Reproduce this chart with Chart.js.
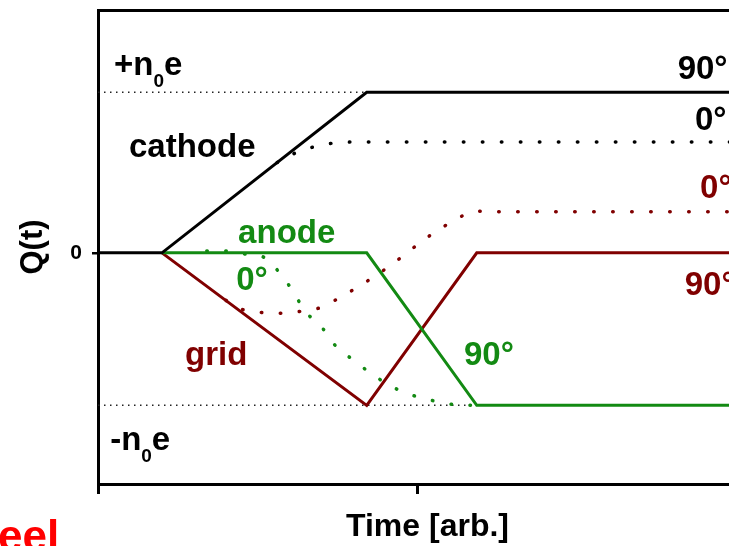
<!DOCTYPE html>
<html>
<head>
<meta charset="utf-8">
<script src="https://cdn.jsdelivr.net/npm/chart.js@4.4.1/dist/chart.umd.min.js"></script>
<style>
  html, body { margin: 0; padding: 0; background: #fff; overflow: hidden; }
  #wrap { position: relative; width: 729px; height: 546px; overflow: hidden; }
  canvas { display: block; }
</style>
</head>
<body>
<div id="wrap"><canvas id="c" width="757" height="546" style="width:757px;height:546px"></canvas></div>
<script>
// Induced charge Q(t) on cathode, anode and grid, for 90° and 0° tracks.
const timeTicks = [0, 5, 10];
const chargeTicks = [0];

// +n0e and -n0e reference levels
const levelT = [0, 10.3];
const levelPlus = [1, 1];
const levelMinus = [-0.95, -0.95];

// 90° track (solid lines)
const cathode90T = [0, 1, 4.2, 10.3];
const cathode90Q = [0, 0, 1, 1];
const anode90T = [1, 4.2, 5.92, 10.3];
const anode90Q = [0, 0, -0.95, -0.95];
const grid90T = [1, 4.2, 5.92, 10.3];
const grid90Q = [0, -0.95, 0, 0];

// 0° track (dotted curves), drawn where each one departs from its 90° line
const cathode0T = [2.8, 3.1, 3.39, 3.7, 4.0, 10.3];
const cathode0Q = [0.5625, 0.625, 0.662, 0.685, 0.69, 0.69];
const anode0T = [1.7, 1.98, 2.28, 2.58, 2.84, 3.05, 3.23, 3.5, 3.7, 4.0, 4.3, 4.59, 4.9, 5.19, 5.48, 5.78, 5.92];
const anode0Q = [0.012, 0.012, -0.006, -0.025, -0.125, -0.241, -0.36, -0.465, -0.573, -0.671, -0.76, -0.833, -0.885, -0.916, -0.941, -0.95, -0.95];
const grid0T = [2.0, 2.25, 2.56, 2.84, 3.14, 3.43, 3.73, 4.03, 4.31, 4.6, 4.86, 5.16, 5.45, 5.75, 5.97, 6.25, 10.3];
const grid0Q = [-0.296, -0.352, -0.372, -0.376, -0.366, -0.347, -0.29, -0.22, -0.15, -0.07, 0.01, 0.1, 0.175, 0.24, 0.26, 0.256, 0.256];

const INK = '#000000';
const GREEN = '#138a13';
const MAROON = '#800000';
const FONT = "'Liberation Sans', Arial, sans-serif";

Chart.defaults.font.family = FONT;

const pts = (T, Q) => T.map((t, i) => ({ x: t, y: Q[i] }));

// text annotations, anchored in data units (left edge, baseline)
const notes = [
  { parts: [['+n'], ['0', 'sub'], ['e']], x: 0.25, y: 1.109, color: INK },
  { parts: [['cathode']], x: 0.484, y: 0.598, color: INK },
  { parts: [['anode']], x: 2.19, y: 0.062, color: GREEN },
  { parts: [['0°']], x: 2.16, y: -0.23, color: GREEN },
  { parts: [['grid']], x: 1.36, y: -0.698, color: MAROON },
  { parts: [['90°']], x: 5.72, y: -0.698, color: GREEN },
  { parts: [['-n'], ['0', 'sub'], ['e']], x: 0.19, y: -1.227, color: INK },
  { parts: [['90°']], x: 9.06, y: 1.084, color: INK },
  { parts: [['0°']], x: 9.33, y: 0.766, color: INK },
  { parts: [['0°']], x: 9.41, y: 0.343, color: MAROON },
  { parts: [['90°']], x: 9.17, y: -0.262, color: MAROON }
];

const notesPlugin = {
  id: 'notes',
  afterDatasetsDraw(chart) {
    const ctx = chart.ctx;
    const xs = chart.scales.x, ys = chart.scales.y;
    ctx.save();
    ctx.textBaseline = 'alphabetic';
    ctx.textAlign = 'left';
    for (const n of notes) {
      let px = xs.getPixelForValue(n.x);
      const py = ys.getPixelForValue(n.y);
      ctx.fillStyle = n.color;
      for (const [txt, kind] of n.parts) {
        if (kind === 'sub') {
          ctx.font = 'bold 19px ' + FONT;
          ctx.fillText(txt, px, py + 12);
        } else {
          ctx.font = 'bold 33px ' + FONT;
          ctx.fillText(txt, px, py);
        }
        px += ctx.measureText(txt).width;
      }
    }
    ctx.font = 'bold 44px ' + FONT;
    ctx.fillStyle = '#ff0000';
    ctx.fillText('eel', -2, 551);
    ctx.restore();
  }
};

const dotted = (color) => ({
  borderColor: color,
  borderWidth: 3.5,
  borderDash: [0.5, 18.5],
  borderCapStyle: 'round',
  cubicInterpolationMode: 'monotone',
  order: 5
});
const solid = (color) => ({
  borderColor: color,
  borderWidth: 3,
  order: 1
});
const level = {
  borderColor: '#222',
  borderWidth: 1.5,
  borderDash: [1.5, 4.5],
  order: 10
};

new Chart(document.getElementById('c'), {
  type: 'line',
  data: {
    datasets: [
      Object.assign({ label: '+n0e', data: pts(levelT, levelPlus) }, level),
      Object.assign({ label: '-n0e', data: pts(levelT, levelMinus) }, level),
      Object.assign({ label: 'cathode 0°', data: pts(cathode0T, cathode0Q) }, dotted(INK)),
      Object.assign({ label: 'anode 0°', data: pts(anode0T, anode0Q) }, dotted(GREEN)),
      Object.assign({ label: 'grid 0°', data: pts(grid0T, grid0Q) }, dotted(MAROON)),
      Object.assign({ label: 'cathode 90°', data: pts(cathode90T, cathode90Q) }, solid(INK)),
      Object.assign({ label: 'anode 90°', data: pts(anode90T, anode90Q) }, solid(GREEN)),
      Object.assign({ label: 'grid 90°', data: pts(grid90T, grid90Q) }, solid(MAROON))
    ]
  },
  options: {
    responsive: false,
    animation: false,
    devicePixelRatio: 1,
    layout: { padding: 0 },
    elements: { point: { radius: 0 }, line: { tension: 0, fill: false } },
    plugins: { legend: { display: false }, tooltip: { enabled: false } },
    scales: {
      x: {
        type: 'linear', position: 'bottom', min: 0, max: 10.3,
        afterFit: s => { s.height = 62; s.paddingLeft = 0; s.paddingRight = 0; },
        afterBuildTicks: s => { s.ticks = timeTicks.map(v => ({ value: v })); },
        grid: { display: true, drawOnChartArea: false, drawTicks: true, tickLength: 10, lineWidth: 3, color: INK },
        border: { display: true, width: 3, color: INK },
        ticks: { display: false },
        title: { display: true, text: 'Time [arb.]', color: INK, font: { size: 32, weight: 'bold' }, padding: { top: 0, bottom: 0 } }
      },
      x2: {
        type: 'linear', position: 'top', min: 0, max: 10.3,
        afterFit: s => { s.height = 10; s.paddingLeft = 0; s.paddingRight = 0; },
        grid: { display: false, drawTicks: false },
        border: { display: true, width: 3, color: INK },
        ticks: { display: false }
      },
      y: {
        type: 'linear', position: 'left', min: -1.44, max: 1.513,
        afterFit: s => { s.width = 98; s.paddingTop = 0; s.paddingBottom = 0; },
        afterBuildTicks: s => { s.ticks = chargeTicks.map(v => ({ value: v })); },
        grid: { display: true, drawOnChartArea: false, drawTicks: true, tickLength: 6, lineWidth: 2.5, color: INK },
        border: { display: true, width: 3, color: INK },
        ticks: { color: INK, font: { size: 21, weight: 'bold' }, padding: 10 },
        title: { display: true, text: 'Q(t)', color: INK, font: { size: 31, weight: 'bold' }, padding: { top: 15, bottom: 0 } }
      }
    }
  },
  plugins: [notesPlugin]
});
</script>
</body>
</html>
